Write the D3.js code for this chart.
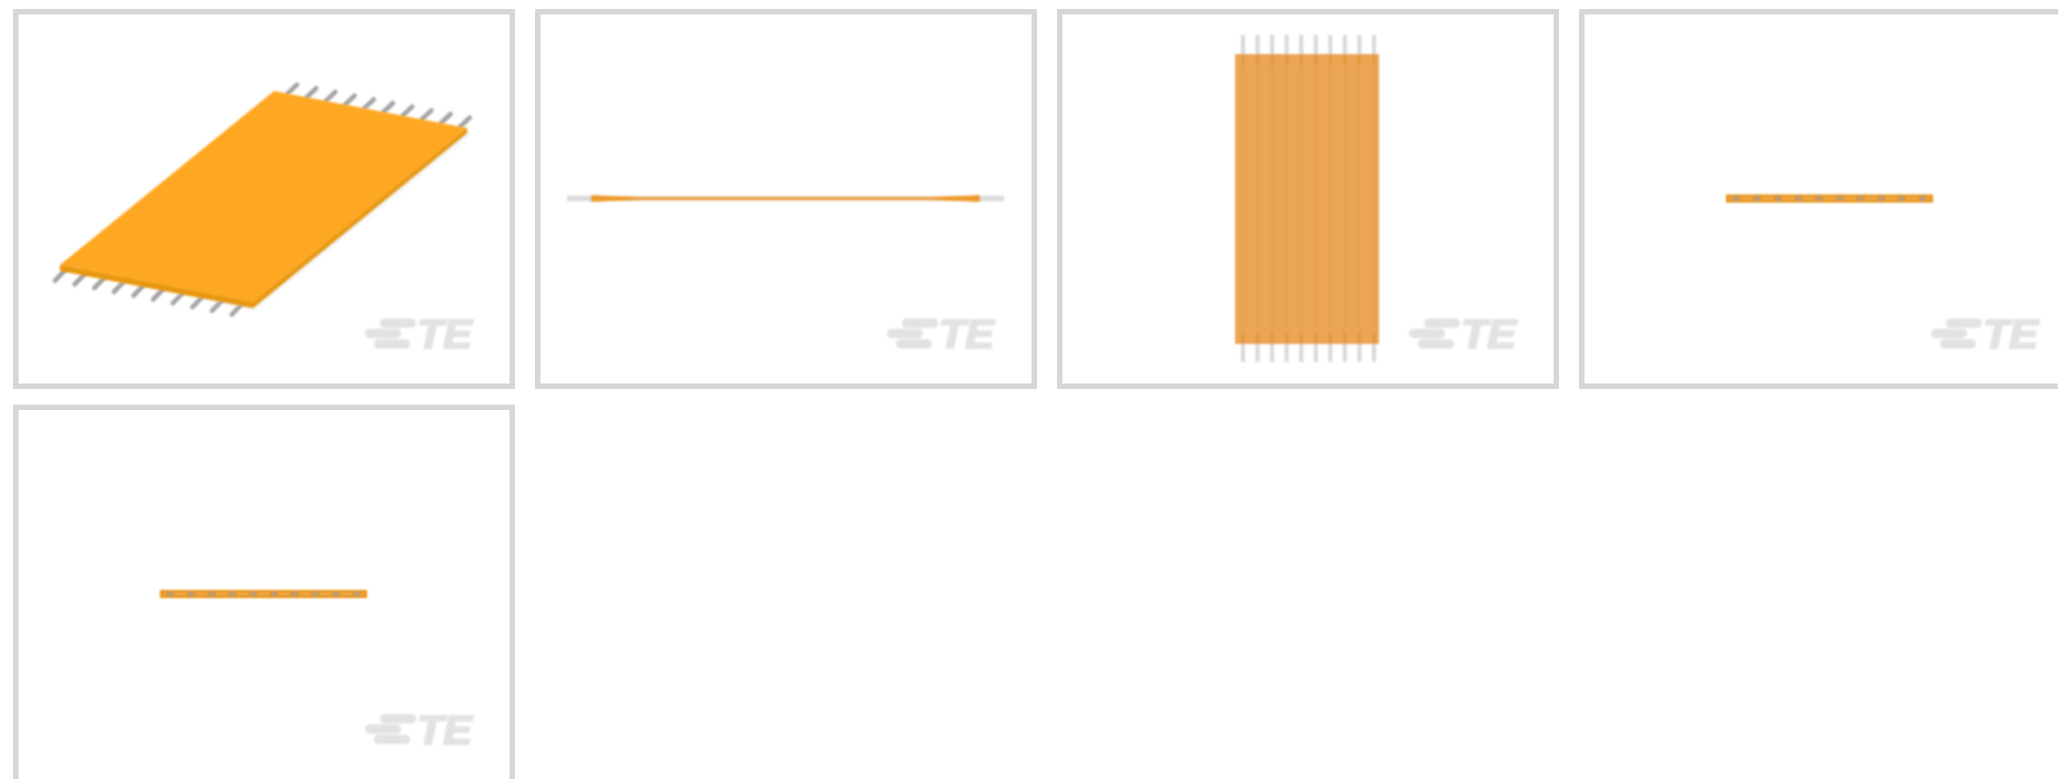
<!DOCTYPE html>
<html>
<head>
<meta charset="utf-8">
<style>
html,body{margin:0;padding:0;background:#fff;overflow:hidden}
svg{display:block}
</style>
<script src="https://cdn.jsdelivr.net/npm/d3@7/dist/d3.min.js"></script>
</head>
<body>
<script>
// Data
const views = ["isometric", "side", "top", "endA", "endB"];
const viewColumn = [0, 1, 2, 3, 0];
const viewRow = [0, 0, 0, 0, 1];
const conductors = ["1", "2", "3", "4", "5", "6", "7", "8", "9", "10"];
const logoBars = ["upper", "middle", "lower"];
const logoText = "TE";

const W = 2058, H = 779;
const svg = d3.select("body").append("svg").attr("width", W).attr("height", H);
const defs = svg.append("defs");
[["blur", 1.3], ["soft", 1.0], ["edge", 0.5], ["shadow", 2.4]].forEach(([id, s]) => {
  defs.append("filter").attr("id", id)
    .attr("filterUnits", "userSpaceOnUse").attr("x", -20).attr("y", -20).attr("width", W + 40).attr("height", H + 40)
    .append("feGaussianBlur").attr("stdDeviation", s);
});

const column = d3.scaleLinear().domain([0, 1]).range([13, 535]);
const row = d3.scaleLinear().domain([0, 1]).range([9, 404.5]);
const panelW = 502, panelH = 380;

const panels = svg.selectAll("g.panel").data(views).join("g")
  .attr("class", "panel")
  .attr("transform", (d, i) => `translate(${column(viewColumn[i])},${row(viewRow[i])})`);

panels.append("rect")
  .attr("x", 2.75).attr("y", 2.75).attr("width", panelW - 5.5).attr("height", panelH - 5.5)
  .attr("fill", "#fff").attr("stroke", "#d6d6d6").attr("stroke-width", 5.5)
  .attr("filter", "url(#edge)");

// Logo
const logo = panels.append("g").attr("filter", "url(#soft)");
const logoBarX = d3.scaleOrdinal().domain(logoBars).range([367, 352, 361]);
const logoBarY = d3.scaleBand().domain(logoBars).range([309.5, 339.5]).paddingInner(0.1).paddingOuter(0);
logo.selectAll("rect").data(logoBars).join("rect")
  .attr("x", d => logoBarX(d)).attr("y", d => logoBarY(d))
  .attr("width", 36).attr("height", logoBarY.bandwidth())
  .attr("rx", logoBarY.bandwidth() / 2)
  .attr("fill", "#e2e2e2");
logo.append("text").text(logoText)
  .attr("x", 404).attr("y", 339)
  .attr("font-family", "'Liberation Sans', sans-serif")
  .attr("font-weight", 700).attr("font-style", "italic")
  .attr("font-size", 40).attr("textLength", 55).attr("lengthAdjust", "spacingAndGlyphs")
  .attr("fill", "#e2e2e2").attr("stroke", "#e2e2e2").attr("stroke-width", 2);

// Isometric view: ribbon on a skewed plane
const iso = d3.select(panels.nodes()[0]);
const uFront = d3.scalePoint().domain(conductors).range([0.044, 0.96]);
const uBack = d3.scalePoint().domain(conductors).range([0.07, 0.965]);
const BL = [47, 256], BR = [240, 293], TL = [261, 82];
const P = (a, b) => [
  BL[0] + a * (BR[0] - BL[0]) + b * (TL[0] - BL[0]),
  BL[1] + a * (BR[1] - BL[1]) + b * (TL[1] - BL[1])
];
const pinLine = d3.line();
const isoPins = iso.append("g").attr("filter", "url(#soft)");
isoPins.selectAll("path.front").data(conductors).join("path").attr("class", "front")
  .attr("d", d => { const p = P(uFront(d), 0); return pinLine([p, [p[0] - 13.5, p[1] + 14]]); })
  .attr("stroke", "#a3a3a3").attr("stroke-width", 4.6).attr("fill", "none").attr("stroke-linecap", "round");
isoPins.selectAll("path.back").data(conductors).join("path").attr("class", "back")
  .attr("d", d => { const p = P(uBack(d), 1); return pinLine([p, [p[0] + 9.5, p[1] - 9]]); })
  .attr("stroke", "#a3a3a3").attr("stroke-width", 4.6).attr("fill", "none").attr("stroke-linecap", "round");
// soft drop shadow under the right edge
iso.append("path")
  .attr("d", d3.line()([P(0, 0), [P(1, 0)[0], P(1, 0)[1] + 6], [P(1, 1)[0], P(1, 1)[1] + 6], P(1, 1)]))
  .attr("fill", "#c9c9c9").attr("fill-opacity", 0.7).attr("filter", "url(#shadow)");
const ribbon = iso.append("g").attr("filter", "url(#soft)");
ribbon.append("path")
  .attr("d", d3.line()([P(0, 0), P(1, 0), P(1, 1), [P(1, 1)[0], P(1, 1)[1] + 5], [P(1, 0)[0], P(1, 0)[1] + 6], [P(0, 0)[0], P(0, 0)[1] + 6]]))
  .attr("fill", "#e8960e");
ribbon.append("path")
  .attr("d", d3.line()([P(0, 0), P(1, 0), P(1, 1), P(0, 1)]))
  .attr("fill", "#fea721");
ribbon.selectAll("path.rib").data(conductors.slice(1)).join("path").attr("class", "rib")
  .attr("d", d => pinLine([P(uFront(d) - 0.05, 0.01), P(uFront(d) - 0.05, 0.99)]))
  .attr("stroke", "#ffb23a").attr("stroke-width", 1.2).attr("stroke-opacity", 0.45).attr("fill", "none");

// Side view
const side = d3.select(panels.nodes()[1]).append("g").attr("filter", "url(#soft)");
const sideX = d3.scaleLinear().domain([0, 1]).range([32, 469]);
const sideY = 189.5;
side.append("rect").attr("x", sideX(0)).attr("y", sideY - 2.7).attr("width", sideX(0.06) - sideX(0)).attr("height", 5.4).attr("fill", "#dadada");
side.append("rect").attr("x", sideX(0.94)).attr("y", sideY - 2.7).attr("width", sideX(1) - sideX(0.94)).attr("height", 5.4).attr("fill", "#dadada");
side.append("rect").attr("x", sideX(0.06)).attr("y", sideY - 2.5).attr("width", sideX(0.94) - sideX(0.06)).attr("height", 5).attr("fill", "#f6f1e8");
side.append("path")
  .attr("d", d3.line()([
    [sideX(0.055), sideY - 3.4], [sideX(0.09), sideY - 2.8], [sideX(0.17), sideY - 1.7], [sideX(0.83), sideY - 1.7], [sideX(0.91), sideY - 2.8], [sideX(0.945), sideY - 3.4],
    [sideX(0.945), sideY + 3.4], [sideX(0.91), sideY + 2.8], [sideX(0.83), sideY + 1.7], [sideX(0.17), sideY + 1.7], [sideX(0.09), sideY + 2.8], [sideX(0.055), sideY + 3.4]
  ]))
  .attr("fill", "#ec9a2a");

// Top view
const top3 = d3.select(panels.nodes()[2]).append("g").attr("filter", "url(#soft)");
const topX = d3.scalePoint().domain(conductors).range([186, 317]);
const topY = d3.scaleLinear().domain([0, 1]).range([26, 353]);
top3.selectAll("line.pin").data(conductors).join("line").attr("class", "pin")
  .attr("x1", d => topX(d)).attr("x2", d => topX(d))
  .attr("y1", topY(0)).attr("y2", topY(1))
  .attr("stroke", "#d8d8d8").attr("stroke-width", 4);
top3.append("rect").attr("x", 178).attr("y", 45).attr("width", 144).attr("height", 290).attr("fill", "#eaa555");
top3.selectAll("line.band").data(conductors).join("line").attr("class", "band")
  .attr("x1", d => topX(d)).attr("x2", d => topX(d))
  .attr("y1", 45).attr("y2", 335)
  .attr("stroke", "#e69c44").attr("stroke-width", 3).attr("stroke-opacity", 0.25);
top3.selectAll("line.stubTop").data(conductors).join("line").attr("class", "stubTop")
  .attr("x1", d => topX(d)).attr("x2", d => topX(d))
  .attr("y1", 45).attr("y2", 56)
  .attr("stroke", "#e4973a").attr("stroke-width", 3);
top3.selectAll("line.stubBottom").data(conductors).join("line").attr("class", "stubBottom")
  .attr("x1", d => topX(d)).attr("x2", d => topX(d))
  .attr("y1", 324).attr("y2", 335)
  .attr("stroke", "#e4973a").attr("stroke-width", 3);

// End views
[3, 4].forEach(k => {
  const g = d3.select(panels.nodes()[k]).append("g").attr("filter", "url(#soft)");
  const x0 = 147, w = 207, cy = 189.5;
  const ex = d3.scalePoint().domain(conductors).range([x0, x0 + w]).padding(0.5);
  g.append("rect").attr("x", x0).attr("y", cy - 4).attr("width", w).attr("height", 8).attr("fill", "#e8920f");
  g.append("line").attr("x1", x0 + 3).attr("x2", x0 + w - 3).attr("y1", cy).attr("y2", cy)
    .attr("stroke", "#f8bc68").attr("stroke-width", 1.6);
  g.selectAll("circle.halo").data(conductors).join("circle").attr("class", "halo")
    .attr("cx", d => ex(d)).attr("cy", cy).attr("r", 3.8).attr("fill", "#d98e1c");
  g.selectAll("circle.core").data(conductors).join("circle").attr("class", "core")
    .attr("cx", d => ex(d)).attr("cy", cy).attr("r", 2.2).attr("fill", "#a8a290");
});
</script>
</body>
</html>
